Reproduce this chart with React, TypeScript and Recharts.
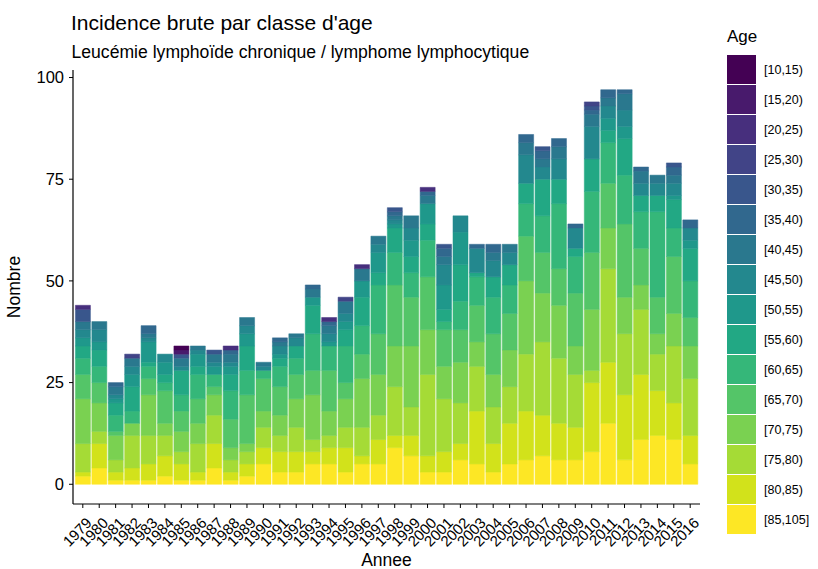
import React from "react";
import { BarChart, Bar, XAxis, YAxis } from "recharts";

const years = [
  "1979", "1980", "1981", "1982", "1983", "1984", "1985", "1986", "1987", "1988",
  "1989", "1990", "1991", "1992", "1993", "1994", "1995", "1996", "1997", "1998",
  "1999", "2000", "2001", "2002", "2003", "2004", "2005", "2006", "2007", "2008",
  "2009", "2010", "2011", "2012", "2013", "2014", "2015", "2016",
];

const ageClasses = [
  "[10,15)", "[15,20)", "[20,25)", "[25,30)", "[30,35)", "[35,40)", "[40,45)", "[45,50)",
  "[50,55)", "[55,60)", "[60,65)", "[65,70)", "[70,75)", "[75,80)", "[80,85)", "[85,105]",
];

const ageColors = [
  "#440154", "#481A6C", "#472F7D", "#414487", "#39568C", "#31688E", "#2A788E", "#23888E",
  "#1F988B", "#22A884", "#35B779", "#54C568", "#7AD151", "#A5DB36", "#D2E21B", "#FDE725",
];

// counts per year, 1979 -> 2016
const age10_15 = [0,0,0,0,0,0,1,0,0,0, 0,0,0,0,0,0,0,0,0,0, 0,0,0,0,0,0,0,0,0,0, 0,0,0,0,0,0,0,0];
const age15_20 = [0,0,0,0,0,0,1,0,0,0, 0,0,0,0,0,0,0,0,0,0, 0,0,0,0,0,0,0,0,0,0, 0,0,0,0,0,0,0,0];
const age20_25 = [1,0,0,0,0,0,0,0,0,1, 0,0,0,0,0,1,0,1,0,0, 0,1,0,0,0,0,0,0,0,0, 0,0,0,0,0,0,0,0];
const age25_30 = [0,0,0,1,0,0,0,0,0,0, 0,0,0,0,0,0,1,0,0,0, 0,0,0,0,0,0,0,0,0,0, 0,1,0,0,0,0,0,0];
const age30_35 = [3,0,0,0,0,0,1,0,1,0, 0,0,0,0,0,0,0,0,0,1, 0,0,1,0,0,0,0,0,1,0, 0,1,0,0,0,0,1,0];
const age35_40 = [0,0,1,0,2,0,0,0,0,1, 0,0,1,0,1,1,0,0,0,1, 0,1,2,0,1,2,0,2,2,2, 1,1,2,1,1,0,2,2];
const age40_45 = [2,2,2,2,1,0,2,1,2,2, 2,1,1,1,2,2,3,3,2,1, 3,2,2,0,0,2,2,3,2,3, 0,3,2,4,3,2,2,0];
const age45_50 = [2,3,1,2,1,2,1,1,1,1, 2,1,2,2,0,2,2,0,2,1, 3,0,5,4,6,4,3,7,3,5, 5,8,3,4,3,3,3,3];
const age50_55 = [2,2,1,3,5,3,0,3,2,2, 3,0,1,0,2,1,2,4,5,1, 4,5,6,8,0,0,0,0,0,0, 0,0,3,3,0,0,1,2];
const age55_60 = [3,4,3,6,1,2,6,2,0,4, 6,0,2,3,7,0,4,7,3,6, 4,4,3,9,1,5,5,5,9,6, 2,8,3,9,4,4,7,8];
const age60_65 = [4,4,4,3,3,2,4,6,3,7, 6,2,5,4,9,6,9,7,12,8, 6,9,2,7,7,9,7,8,9,16, 9,15,10,12,9,21,7,9];
const age65_70 = [6,5,1,0,4,8,5,6,2,7, 12,8,7,6,6,10,4,6,10,15, 12,13,9,8,9,10,9,11,10,9, 13,14,11,18,9,9,14,7];
const age70_75 = [11,7,6,3,10,3,5,5,5,3, 2,4,5,7,11,6,7,12,10,10, 15,11,8,10,6,8,9,18,12,13, 7,15,10,9,6,5,8,8];
const age75_80 = [7,3,3,8,7,5,3,7,7,3, 3,5,4,6,3,3,5,7,6,12, 7,20,13,10,11,9,9,14,18,16, 13,3,23,15,16,9,14,14];
const age80_85 = [1,6,2,3,4,5,4,2,6,2, 3,4,5,5,3,4,6,2,6,3, 5,4,5,4,13,7,10,12,10,9, 8,17,15,16,16,11,9,7];
const age85_105 = [2,4,1,1,1,2,1,1,4,1, 2,5,3,3,5,5,3,5,5,9, 7,3,3,6,5,3,5,6,7,6, 6,8,15,6,11,12,11,5];

const countsByAge = [
  age10_15, age15_20, age20_25, age25_30, age30_35, age35_40, age40_45, age45_50,
  age50_55, age55_60, age60_65, age65_70, age70_75, age75_80, age80_85, age85_105,
];

const yTicks = [0, 25, 50, 75, 100];

const data = years.map((year, i) => {
  const row: Record<string, string | number> = { year };
  countsByAge.forEach((counts, k) => {
    row[`a${k}`] = counts[i];
  });
  return row;
});

const font = "'Liberation Sans', Arial, Helvetica, sans-serif";

const YearTick = ({ x, y, payload }: any) => (
  <text
    x={x + 2}
    y={y + 6}
    dy="0.75em"
    textAnchor="end"
    transform={`rotate(-45 ${x + 2} ${y + 6})`}
    fontSize={15}
    fill="#000"
    fontFamily={font}
  >
    {payload.value}
  </text>
);

export default function App() {
  // ggplot stacks the first level on top, so draw from the last class upward
  const stackOrder = ageClasses.map((_, k) => k).reverse();
  return (
    <div style={{ position: "absolute", left: 0, top: 0, width: 818, height: 569, background: "#fff", fontFamily: font }}>
      <div style={{ position: "absolute", left: 71, top: 11, fontSize: 21, lineHeight: "normal", color: "#000", whiteSpace: "nowrap" }}>
        Incidence brute par classe d'age
      </div>
      <div style={{ position: "absolute", left: 71.5, top: 42, fontSize: 17.6, lineHeight: "normal", color: "#000", whiteSpace: "nowrap" }}>
        Leucémie lymphoïde chronique / lymphome lymphocytique
      </div>
      <BarChart
        width={818}
        height={569}
        data={data}
        margin={{ top: 70, right: 118, bottom: 0, left: 0 }}
        barCategoryGap="5%"
        style={{ fontFamily: font }}
      >
        <XAxis
          dataKey="year"
          interval={0}
          height={65}
          padding={{ left: 1.6, right: 1.6 }}
          axisLine={{ stroke: "#000", strokeWidth: 1.2 }}
          tickLine={{ stroke: "#000" }}
          tickSize={4}
          tick={<YearTick />}
          label={{ value: "Annee", position: "insideBottom", offset: 3, fill: "#000", fontSize: 17.5 }}
        />
        <YAxis
          type="number"
          width={73}
          domain={[-4.85, 101.85]}
          ticks={yTicks}
          allowDataOverflow
          axisLine={{ stroke: "#000", strokeWidth: 1.2 }}
          tickLine={{ stroke: "#000" }}
          tickSize={4}
          tickMargin={5}
          tick={{ fill: "#000", fontSize: 16.5 }}
          label={{ value: "Nombre", angle: -90, position: "insideLeft", offset: 14, fill: "#000", fontSize: 17.5, style: { textAnchor: "middle" } }}
        />
        {stackOrder.map((k) => (
          <Bar
            key={k}
            dataKey={`a${k}`}
            stackId="age"
            fill={ageColors[k]}
            stroke={ageColors[k]}
            strokeWidth={0.5}
            isAnimationActive={false}
          />
        ))}
      </BarChart>
      <div style={{ position: "absolute", left: 727, top: 27, fontSize: 17, color: "#000" }}>Age</div>
      {ageClasses.map((label, k) => (
        <div key={label} style={{ position: "absolute", left: 727, top: 55 + k * 30, height: 29, display: "flex", alignItems: "center" }}>
          <div style={{ width: 29, height: 28.5, background: ageColors[k] }} />
          <span style={{ marginLeft: 8, fontSize: 12.5, color: "#000" }}>{label}</span>
        </div>
      ))}
    </div>
  );
}
